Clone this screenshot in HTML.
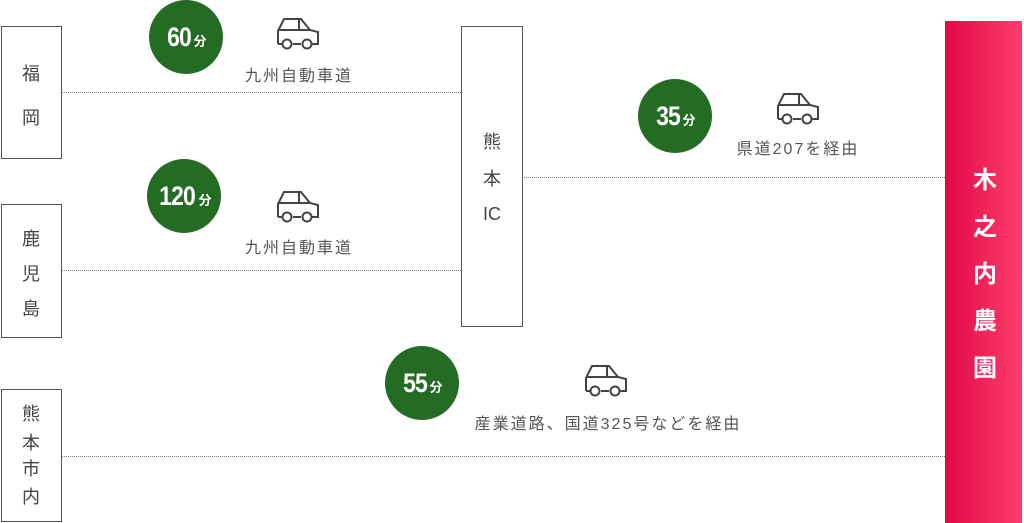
<!DOCTYPE html>
<html><head><meta charset="utf-8"><style>
body{margin:0;width:1024px;height:523px;background:#fff;position:relative;overflow:hidden;font-family:"Liberation Sans","Noto Sans CJK JP",sans-serif;color:#444}
.box{position:absolute;border:1.5px solid #555;box-sizing:border-box;background:#fff}
.t{position:absolute;font-size:18px;line-height:1;transform:translate(-50%,-50%);color:#444;white-space:nowrap}
.dl{position:absolute;height:0;border-top:1.5px dotted #777}
.c{position:absolute;border-radius:50%;background:#246b23;color:#fff;display:flex;align-items:center;justify-content:center;font-size:27px;font-weight:bold}
.c span{display:inline-block;transform:scaleX(0.85);letter-spacing:-1px}
.c small{font-size:13px;margin-left:0px;margin-top:6px}
.lab{position:absolute;font-size:16px;letter-spacing:2px;transform:translateX(-50%);white-space:nowrap;color:#555}
.car{position:absolute}
.red{position:absolute;left:945px;top:21px;width:77px;height:502px;background:linear-gradient(90deg,#e00846,#fe3f6e)}
.rt{position:absolute;left:985px;transform:translate(-50%,-50%);color:#fff;font-size:24px;font-weight:bold;line-height:1}
</style></head><body>
<div class="dl" style="left:62px;top:92px;width:399px"></div>
<div class="dl" style="left:62px;top:270px;width:399px"></div>
<div class="dl" style="left:522px;top:177px;width:423px"></div>
<div class="dl" style="left:62px;top:456px;width:883px"></div>

<div class="box" style="left:1px;top:26px;width:61px;height:133px"></div>
<div class="t" style="left:31px;top:74px">福</div>
<div class="t" style="left:31px;top:118px">岡</div>
<div class="box" style="left:1px;top:204px;width:61px;height:134px"></div>
<div class="t" style="left:31px;top:239px">鹿</div>
<div class="t" style="left:31px;top:274px">児</div>
<div class="t" style="left:31px;top:309px">島</div>
<div class="box" style="left:1px;top:389px;width:61px;height:133px"></div>
<div class="t" style="left:31px;top:414px">熊</div>
<div class="t" style="left:31px;top:443px">本</div>
<div class="t" style="left:31px;top:469px">市</div>
<div class="t" style="left:31px;top:497px">内</div>
<div class="box" style="left:461px;top:26px;width:62px;height:301px"></div>
<div class="t" style="left:492px;top:142px">熊</div>
<div class="t" style="left:492px;top:179px">本</div>
<div class="t" style="left:492px;top:214px">IC</div>

<div class="c" style="left:149px;top:0px;width:74px;height:74px"><span>60</span><small>分</small></div>
<div class="c" style="left:147px;top:159px;width:74px;height:74px"><span>120</span><small>分</small></div>
<div class="c" style="left:638px;top:79px;width:74px;height:74px"><span>35</span><small>分</small></div>
<div class="c" style="left:385px;top:346px;width:74px;height:74px"><span>55</span><small>分</small></div>

<svg width="0" height="0" style="position:absolute"><defs><g id="car" fill="none" stroke="#444" stroke-width="2"><path d="M1,27 V14 L7,2 H24 L33,13 L41,15 V27 H35 M24,27 H16 M5,27 H1"/><path d="M1,13 H33 M22,2 V13"/><circle cx="10" cy="27" r="4.5" fill="#fff"/><circle cx="30" cy="27" r="4.5" fill="#fff"/></g></defs></svg>
<svg class="car" style="left:277px;top:17px" width="44" height="34"><use href="#car"/></svg>
<svg class="car" style="left:277px;top:190px" width="44" height="34"><use href="#car"/></svg>
<svg class="car" style="left:777px;top:92px" width="44" height="34"><use href="#car"/></svg>
<svg class="car" style="left:585px;top:364px" width="44" height="34"><use href="#car"/></svg>

<div class="lab" style="left:299px;top:62px">九州自動車道</div>
<div class="lab" style="left:299px;top:234px">九州自動車道</div>
<div class="lab" style="left:798px;top:135px">県道207を経由</div>
<div class="lab" style="left:608px;top:410px">産業道路、国道325号などを経由</div>

<div class="red"></div>
<div class="rt" style="top:181px">木</div>
<div class="rt" style="top:228px">之</div>
<div class="rt" style="top:275px">内</div>
<div class="rt" style="top:322px">農</div>
<div class="rt" style="top:369px">園</div>
</body></html>
